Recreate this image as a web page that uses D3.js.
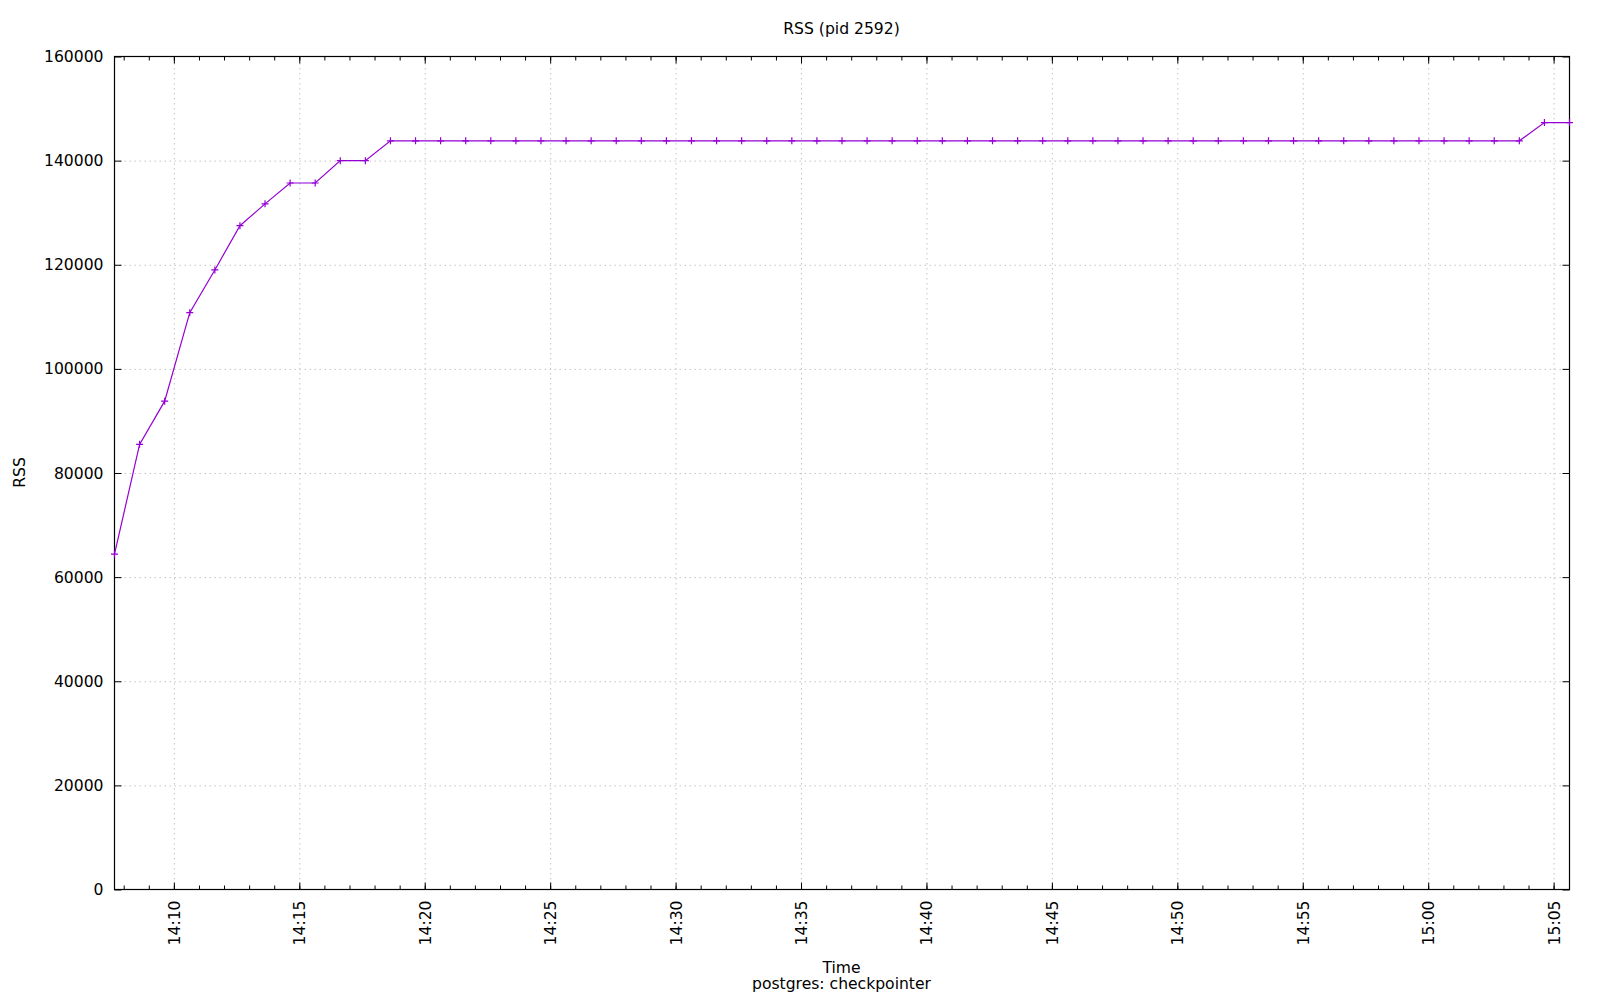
<!DOCTYPE html>
<html>
<head>
<meta charset="utf-8">
<script src="https://cdn.jsdelivr.net/npm/d3@7"></script>
<style>
  html, body { margin: 0; padding: 0; background: #fff; }
  svg { display: block; }
  text { font-family: "DejaVu Sans", sans-serif; fill: #000; }
</style>
</head>
<body>
<svg id="chart" width="1600" height="1000"></svg>
<script>
// ---- Data ----
const times = [
  "14:07:38","14:08:38","14:09:38","14:10:38","14:11:38","14:12:38","14:13:38","14:14:38","14:15:38","14:16:38",
  "14:17:38","14:18:38","14:19:38","14:20:38","14:21:38","14:22:38","14:23:38","14:24:38","14:25:38","14:26:38",
  "14:27:38","14:28:38","14:29:38","14:30:38","14:31:38","14:32:38","14:33:38","14:34:38","14:35:38","14:36:38",
  "14:37:38","14:38:38","14:39:38","14:40:38","14:41:38","14:42:38","14:43:38","14:44:38","14:45:38","14:46:38",
  "14:47:38","14:48:38","14:49:38","14:50:38","14:51:38","14:52:38","14:53:38","14:54:38","14:55:38","14:56:38",
  "14:57:38","14:58:38","14:59:38","15:00:38","15:01:38","15:02:38","15:03:38","15:04:38","15:05:38"
];
const rss = [
  64400, 85500, 93800, 110800, 119000, 127500, 131700, 135700, 135700, 140000,
  140000, 143800, 143800, 143800, 143800, 143800, 143800, 143800, 143800, 143800,
  143800, 143800, 143800, 143800, 143800, 143800, 143800, 143800, 143800, 143800,
  143800, 143800, 143800, 143800, 143800, 143800, 143800, 143800, 143800, 143800,
  143800, 143800, 143800, 143800, 143800, 143800, 143800, 143800, 143800, 143800,
  143800, 143800, 143800, 143800, 143800, 143800, 143800, 147300, 147300
];
const yTicks = [0, 20000, 40000, 60000, 80000, 100000, 120000, 140000, 160000];
const chartTitle = "RSS (pid 2592)";
const xLabel = "Time";
const xSubLabel = "postgres: checkpointer";
const yLabel = "RSS";

// ---- Layout ----
const W = 1600, H = 1000;
const L = 114, R = 1569, T = 56, B = 889;
const lineColor = "#9400d3";
const fontSize = "15.6px";

const parse = d3.timeParse("%H:%M:%S");
const data = times.map((t, i) => ({ t: parse(t), v: rss[i] }));

const x = d3.scaleTime().domain(d3.extent(data, d => d.t)).range([L, R]);
const y = d3.scaleLinear().domain([0, 160000]).range([B, T]);

const svg = d3.select("#chart");
const g = svg.append("g").attr("transform", "translate(0.5,0.5)");

// Grid
const gridStyle = sel => sel.selectAll("line")
  .attr("stroke", "#c4c4c4").attr("stroke-width", 1).attr("stroke-dasharray", "1.5,3.5");

g.append("g").attr("transform", `translate(0,${B})`)
  .call(d3.axisBottom(x).ticks(d3.timeMinute.every(5)).tickSize(-(B - T)).tickFormat(""))
  .call(s => s.select(".domain").remove())
  .call(gridStyle);
g.append("g").attr("transform", `translate(${L},0)`)
  .call(d3.axisLeft(y).tickValues(yTicks.filter(v => v > 0 && v < 160000)).tickSize(-(R - L)).tickFormat(""))
  .call(s => s.select(".domain").remove())
  .call(gridStyle);

// Minor x ticks (bottom & top)
g.append("g").attr("transform", `translate(0,${B})`)
  .call(d3.axisBottom(x).ticks(d3.timeMinute.every(1)).tickSize(-4).tickFormat(""))
  .call(s => s.select(".domain").remove())
  .call(s => s.selectAll("line").attr("stroke", "#000"));
g.append("g").attr("transform", `translate(0,${T})`)
  .call(d3.axisTop(x).ticks(d3.timeMinute.every(1)).tickSize(-4).tickFormat(""))
  .call(s => s.select(".domain").remove())
  .call(s => s.selectAll("line").attr("stroke", "#000"));

// Major x ticks bottom with rotated labels
g.append("g").attr("transform", `translate(0,${B})`)
  .call(d3.axisBottom(x).ticks(d3.timeMinute.every(5)).tickSize(-7).tickFormat(d3.timeFormat("%H:%M")))
  .call(s => s.select(".domain").remove())
  .call(s => s.selectAll("line").attr("stroke", "#000"))
  .call(s => s.selectAll("text")
    .attr("transform", "rotate(-90)")
    .attr("x", -11).attr("y", 0).attr("dy", "0.35em")
    .attr("text-anchor", "end")
    .style("font-size", fontSize).style("font-family", "DejaVu Sans, sans-serif").attr("fill", "#000"));
// Major x ticks top
g.append("g").attr("transform", `translate(0,${T})`)
  .call(d3.axisTop(x).ticks(d3.timeMinute.every(5)).tickSize(-7).tickFormat(""))
  .call(s => s.select(".domain").remove())
  .call(s => s.selectAll("line").attr("stroke", "#000"));

// Y ticks left with labels
g.append("g").attr("transform", `translate(${L},0)`)
  .call(d3.axisLeft(y).tickValues(yTicks).tickSize(-7).tickPadding(11).tickFormat(d3.format("d")))
  .call(s => s.select(".domain").remove())
  .call(s => s.selectAll("line").attr("stroke", "#000"))
  .call(s => s.selectAll("text")
    .style("font-size", fontSize).style("font-family", "DejaVu Sans, sans-serif").attr("fill", "#000"));
// Y ticks right
g.append("g").attr("transform", `translate(${R},0)`)
  .call(d3.axisRight(y).tickValues(yTicks).tickSize(-7).tickFormat(""))
  .call(s => s.select(".domain").remove())
  .call(s => s.selectAll("line").attr("stroke", "#000"));

// Border
g.append("rect").attr("x", L).attr("y", T).attr("width", R - L).attr("height", B - T)
  .attr("fill", "none").attr("stroke", "#000").attr("stroke-width", 1.2);

// Line
const line = d3.line().x(d => x(d.t)).y(d => y(d.v));
g.append("path").datum(data).attr("d", line)
  .attr("fill", "none").attr("stroke", lineColor).attr("stroke-width", 1.2);

// Markers
g.append("g").selectAll("path").data(data).join("path")
  .attr("transform", d => `translate(${x(d.t)},${y(d.v)})`)
  .attr("d", "M-3.5,0H3.5M0,-3.5V3.5")
  .attr("stroke", lineColor).attr("stroke-width", 1.2).attr("fill", "none");

// Texts
svg.append("text").attr("x", (L + R) / 2).attr("y", 34).attr("text-anchor", "middle")
  .style("font-size", fontSize).text(chartTitle);
svg.append("text").attr("x", (L + R) / 2).attr("y", 973).attr("text-anchor", "middle")
  .style("font-size", fontSize).text(xLabel);
svg.append("text").attr("x", (L + R) / 2).attr("y", 989).attr("text-anchor", "middle")
  .style("font-size", fontSize).text(xSubLabel);
svg.append("text").attr("transform", `translate(25,${(T + B) / 2}) rotate(-90)`).attr("text-anchor", "middle")
  .style("font-size", fontSize).text(yLabel);
</script>
</body>
</html>
